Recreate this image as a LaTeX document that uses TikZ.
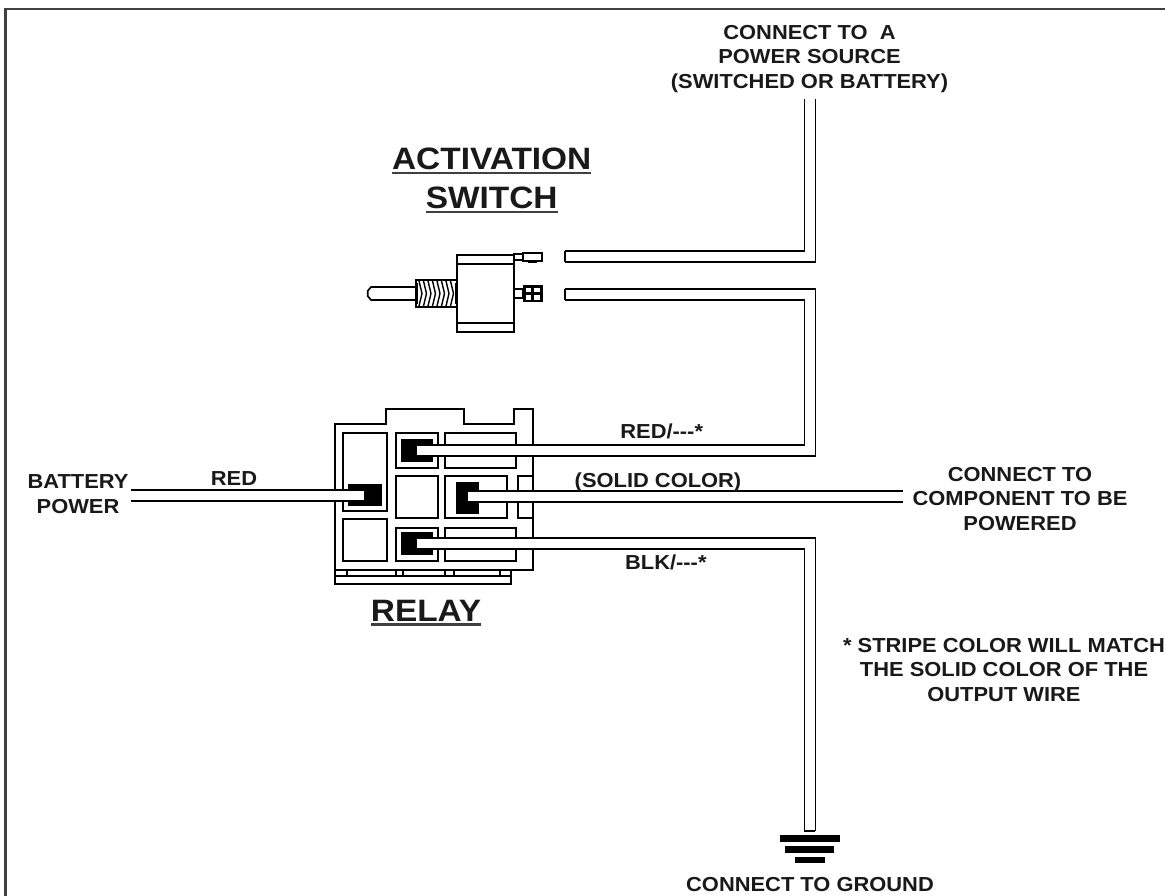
\documentclass[tikz,border=0pt]{standalone}
\usepackage{fontspec}
\setmainfont[FakeStretch=1.08]{Liberation Sans}
\tikzset{
  px/.style={x=0.75pt,y=-0.75pt},
  part/.style={draw=black,line width=1.25pt,fill=white,line join=miter},
  bare/.style={draw=black,line width=1.25pt},
  thin part/.style={draw=black,line width=1.05pt},
  solid black/.style={fill=black,draw=none},
  wire/.style={draw=black,line width=1.25pt,double=white,double distance=7pt,line cap=butt,line join=miter},
  cap line/.style={draw=black,line width=1.25pt,line cap=square},
  lbl/.style={inner sep=0pt,outer sep=0pt,align=center,text=black!90,font=\fontsize{15.2}{18.7}\selectfont\bfseries},
  title/.style={inner sep=0pt,outer sep=0pt,anchor=base,text=black!90,font=\fontsize{23.2}{27}\selectfont\bfseries},
  ul/.style={draw=black!75,line width=1.6pt},
  frame/.style={draw=black!75,line width=2.1pt}
}
\begin{document}
\begin{tikzpicture}[px]
\useasboundingbox (0,0) rectangle (1165,896);
\fill[white] (0,0) rectangle (1165,896);
% outer frame
\draw[frame] (5.5,896) -- (5.5,9) -- (1165,9);

% ---- switch ----
\draw[part] (457.3,254.7) rectangle (514.3,332.3);
\draw[bare] (457.3,264) -- (514.3,264);
\draw[bare] (457.3,322.7) -- (514.3,322.7);
% lever
\draw[part] (415.7,287) -- (371,287) -- (367.7,291) -- (367.7,296) -- (371,300) -- (415.7,300);
% threaded collar
\draw[part] (415.7,280) rectangle (457.3,307.3);
\foreach \tx in {419,423.5,428,432.5,437,441.5,446,450.5}
  \draw[thin part] (\tx,281) -- (\tx+3,293.5) -- (\tx,306);
\draw[line width=1.8pt] (417,283) -- (417,304);
\draw[line width=1.8pt] (456.2,283) -- (456.2,304);
% top terminal
\draw[part] (514.3,254.3) rectangle (523.3,260);
\draw[part,line width=1.7pt] (523.3,253) rectangle (542.3,260.7);
\fill[black] (528.3,260.7) rectangle (537.3,263);
% lower terminal
\draw[part] (514.3,289) rectangle (523.3,298.3);
\fill[black] (523,284.7) rectangle (542.7,302.3);
\fill[white] (525.8,287.5) rectangle (531.4,292);
\fill[white] (534.4,287.5) rectangle (540,292);
\fill[white] (525.8,295) rectangle (531.4,299.6);
\fill[white] (534.4,295) rectangle (540,299.6);

% ---- relay ----
\draw[part] (335.3,423.7) -- (386,423.7) -- (386,409) -- (463.7,409) -- (463.7,423.7)
  -- (514.3,423.7) -- (514.3,409) -- (532.7,409) -- (532.7,570.3) -- (335.3,570.3) -- cycle;
\draw[part] (335.3,570.3) rectangle (510.7,583.7);
\draw[bare] (335.3,576.3) -- (510.7,576.3);
\foreach \tx in {346.7,396,402.7,445.3,454.3,500}
  \draw[bare] (\tx,570.3) -- (\tx,576.3);
\draw[part] (342.7,432.7) rectangle (386.7,511.3);
\draw[part] (342.7,518.7) rectangle (386.7,561.3);
\draw[part] (396,432.7) rectangle (438,468);
\draw[part] (396,475.7) rectangle (438,518.3);
\draw[part] (396,527.7) rectangle (438,561.3);
\draw[part] (445.3,432.7) rectangle (516,468);
\draw[part] (445.3,475.7) rectangle (507.3,518.3);
\draw[part] (445.3,527.7) rectangle (516,561.3);
\draw[part] (518,475.7) rectangle (532.7,518.3);
% blade terminals
\fill[solid black] (348,484) rectangle (382,506.3);
\fill[solid black] (400.7,439) rectangle (433.3,462);
\fill[solid black] (455.7,482.3) rectangle (478.7,514);
\fill[solid black] (400.7,532.3) rectangle (433.3,555.3);

% ---- wire end points and bends ----
\coordinate (batt) at (131,495.3);
\coordinate (bladeA) at (364.3,495.3);
\coordinate (bladeC) at (416.7,450.2);
\coordinate (bladeG) at (468,496.8);
\coordinate (bladeE) at (416.7,543.5);
\coordinate (swTop) at (565.3,256.8);
\coordinate (swLow) at (565.3,294.7);
\coordinate (srcEnd) at (809.9,99.3);
\coordinate (bendTop) at (809.9,256.8);
\coordinate (bendLow) at (809.9,294.7);
\coordinate (bendC) at (809.9,450.2);
\coordinate (compEnd) at (903.3,496.8);
\coordinate (bendE) at (809.9,543.5);
\coordinate (gndEnd) at (809.9,831);

% ---- wires ----
\draw[wire] (batt) -- (bladeA);
\draw[wire] (bladeC) -- (bendC) -- (bendLow) -- (swLow);
\draw[wire] (bladeG) -- (compEnd);
\draw[wire] (bladeE) -- (bendE) -- (gndEnd);
\draw[wire] (swTop) -- (bendTop) -- (srcEnd);
% closed wire ends
\draw[cap line] ([yshift=4.1pt]swTop) -- ([yshift=-4.1pt]swTop);
\draw[cap line] ([yshift=4.1pt]swLow) -- ([yshift=-4.1pt]swLow);
\draw[cap line] ([xshift=-4.1pt]gndEnd) -- ([xshift=4.1pt]gndEnd);

% ---- ground ----
\fill[black] (779.7,835.3) rectangle (839.7,842.3);
\fill[black] (785.3,846.3) rectangle (834.3,852.7);
\fill[black] (794.7,857) rectangle (825.3,863.3);

% ---- titles ----
\node[title] (act) at (491.7,169.3) {ACTIVATION};
\node[title] (swt) at (491.7,208.3) {SWITCH};
\node[title] (rly) at (426,621) {RELAY};
\draw[ul] ([yshift=-2.6pt]act.base west) -- ([yshift=-2.6pt]act.base east);
\draw[ul] ([yshift=-2.6pt]swt.base west) -- ([yshift=-2.6pt]swt.base east);
\draw[ul] ([yshift=-2.6pt]rly.base west) -- ([yshift=-2.6pt]rly.base east);

% ---- labels ----
\node[lbl] (src) at (809.5,59) {CONNECT TO\ \ A\\POWER SOURCE\\(SWITCHED OR BATTERY)};
\node[lbl,anchor=base] (red) at (234,485) {RED};
\node[lbl] (bat) at (78,494) {BATTERY\\POWER};
\node[lbl,anchor=base] (rs) at (661.7,438.3) {RED/-{}-{}-*};
\node[lbl,anchor=base] (sc) at (658,487) {(SOLID COLOR)};
\node[lbl,anchor=base] (bs) at (665.8,569.3) {BLK/-{}-{}-*};
\node[lbl] (cmp) at (1020,499) {CONNECT TO\\COMPONENT TO BE\\POWERED};
\node[lbl] (nt) at (1004,670) {* STRIPE COLOR WILL MATCH\\THE SOLID COLOR OF THE\\OUTPUT WIRE};
\node[lbl,anchor=base] (gnd) at (810,891.5) {CONNECT TO GROUND};
\end{tikzpicture}
\end{document}
